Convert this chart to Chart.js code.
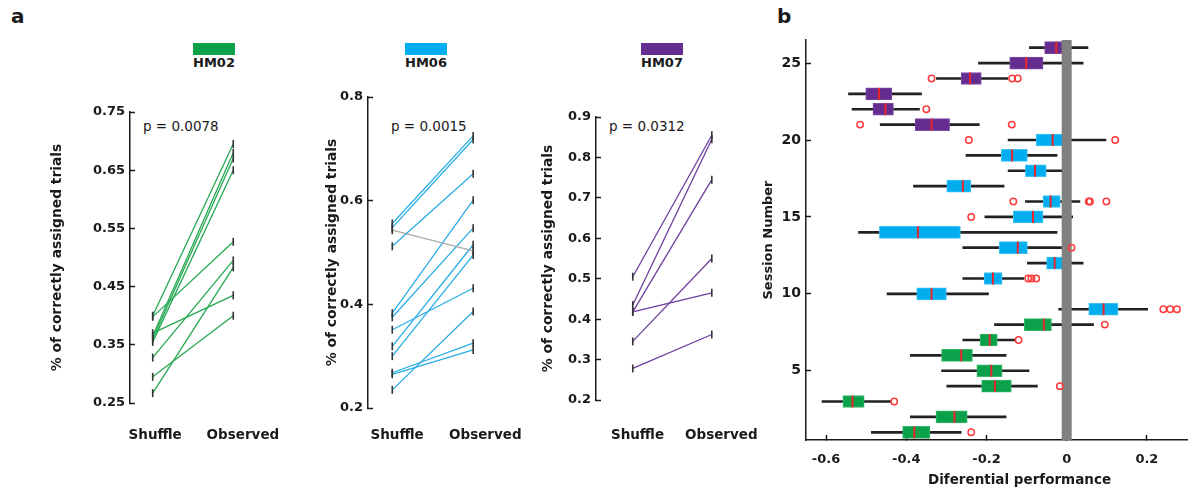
<!DOCTYPE html>
<html>
<head>
<meta charset="utf-8">
<script src="https://cdn.jsdelivr.net/npm/chart.js@4.4.1/dist/chart.umd.min.js"></script>
<style>
  body { margin: 0; background: #fff; width: 1195px; height: 490px; position: relative; overflow: hidden; font-family: "DejaVu Sans", sans-serif; color: #1a1a1a; }
  canvas { position: absolute; top: 0; }
  .txt { position: absolute; white-space: nowrap; }
  .bold { font-weight: bold; }
  .tag { position: absolute; top: 43px; width: 42px; height: 12px; }
  .name { position: absolute; top: 55px; width: 60px; text-align: center; font-weight: bold; font-size: 13px; line-height: 15px; }
  .pval { position: absolute; top: 118px; font-size: 13.5px; line-height: 16px; }
</style>
</head>
<body>

<div class="txt bold" style="left:11px; top:4px; font-size:20px;">a</div>
<div class="txt bold" style="left:777px; top:4px; font-size:20px;">b</div>

<div class="tag" style="left:193px; background:#0ba14b;"></div>
<div class="name" style="left:184px;">HM02</div>
<div class="tag" style="left:405px; background:#00aeef;"></div>
<div class="name" style="left:396px;">HM06</div>
<div class="tag" style="left:641px; background:#662d91;"></div>
<div class="name" style="left:632px;">HM07</div>

<div class="pval" style="left:143px;">p = 0.0078</div>
<div class="pval" style="left:391px;">p = 0.0015</div>
<div class="pval" style="left:609px;">p = 0.0312</div>

<canvas id="c02" width="255" height="460" style="left:40px;"></canvas>
<canvas id="c06" width="215" height="460" style="left:320px;"></canvas>
<canvas id="c07" width="230" height="460" style="left:540px;"></canvas>
<canvas id="cb" width="440" height="490" style="left:755px;"></canvas>

<div class="txt bold" style="left:928px; top:471px; font-size:13.5px;">Diferential performance</div>

<script>
const ink = '#1a1a1a';
const xLabels = ['Shuffle', 'Observed'];

// panel a: one line per session, shuffle -> observed
const shuffle02 = [0.400, 0.365, 0.360, 0.355, 0.398, 0.328, 0.370, 0.295, 0.267];
const observed02 = [0.695, 0.680, 0.670, 0.650, 0.527, 0.495, 0.435, 0.400, 0.483];
const ticks02 = [0.25, 0.35, 0.45, 0.55, 0.65, 0.75];

const shuffle06 = [0.556, 0.548, 0.512, 0.543, 0.383, 0.375, 0.351, 0.319, 0.300, 0.268, 0.265, 0.235];
const observed06 = [0.725, 0.718, 0.652, 0.503, 0.601, 0.547, 0.431, 0.515, 0.495, 0.325, 0.312, 0.386];
const ticks06 = [0.2, 0.4, 0.6, 0.8];

const shuffle07 = [0.505, 0.435, 0.418, 0.418, 0.345, 0.278];
const observed07 = [0.855, 0.845, 0.745, 0.465, 0.550, 0.362];
const ticks07 = [0.2, 0.3, 0.4, 0.5, 0.6, 0.7, 0.8, 0.9];

// panel b: box plot per session
const sessions = [1, 2, 3, 4, 5, 6, 7, 8, 9, 10, 11, 12, 13, 14, 15, 16, 17, 18, 19, 20, 21, 22, 23, 24, 25, 26];
const animal = [0, 0, 0, 0, 0, 0, 0, 0, 1, 1, 1, 1, 1, 1, 1, 1, 1, 1, 1, 1, 2, 2, 2, 2, 2, 2];
const whiskLo = [-0.487, -0.390, -0.610, -0.299, -0.312, -0.390, -0.259, -0.180, -0.020, -0.448, -0.259, -0.098, -0.259,
                 -0.519, -0.204, -0.103, -0.382, -0.146, -0.251, -0.146, -0.465, -0.535, -0.544, -0.325, -0.220, -0.093];
const q1 = [-0.409, -0.326, -0.558, -0.212, -0.224, -0.312, -0.216, -0.106, 0.055, -0.374, -0.206, -0.050, -0.168,
            -0.467, -0.133, -0.059, -0.299, -0.103, -0.163, -0.076, -0.378, -0.483, -0.501, -0.263, -0.142, -0.055];
const median = [-0.380, -0.280, -0.534, -0.179, -0.188, -0.263, -0.192, -0.057, 0.092, -0.337, -0.184, -0.030, -0.122,
                -0.371, -0.084, -0.040, -0.259, -0.079, -0.136, -0.035, -0.337, -0.452, -0.468, -0.241, -0.101, -0.026];
const q3 = [-0.341, -0.248, -0.505, -0.138, -0.161, -0.235, -0.173, -0.038, 0.128, -0.300, -0.161, -0.008, -0.098,
            -0.265, -0.059, -0.016, -0.239, -0.051, -0.098, -0.005, -0.292, -0.432, -0.436, -0.213, -0.059, -0.011];
const whiskHi = [-0.263, -0.151, -0.438, -0.073, -0.094, -0.151, -0.127, 0.067, 0.202, -0.195, -0.107, 0.041, -0.007,
                 -0.024, 0.015, 0.033, -0.156, -0.008, -0.024, 0.098, -0.218, -0.367, -0.362, -0.147, 0.041, 0.053];
const outliers = [[-0.238], [], [-0.430], [-0.017], [], [], [-0.120], [0.095], [0.241, 0.258, 0.275], [], [-0.096, -0.088, -0.076], [],
                  [0.012], [], [-0.238], [-0.133, 0.055, 0.058, 0.099], [], [], [], [-0.244, 0.121], [-0.515, -0.137], [-0.350],
                  [], [-0.337, -0.136, -0.122], [], []];
const xTicksB = [-0.6, -0.4, -0.2, 0, 0.2];
const yTicksB = [5, 10, 15, 20, 25];

const boxColors = ['#0ba14b', '#00aeef', '#662d91'];
const boxEdges = ['#35b86a', '#3cc3f5', '#7c4aa6'];

const tickFont = { family: 'DejaVu Sans', size: 13, weight: 'bold' };

function pairChart(id, shuffle, observed, color, yTicks, opt) {
  const sets = shuffle.map((s, i) => ({
    data: [{ x: 0, y: s }, { x: 1, y: observed[i] }],
    showLine: true,
    borderColor: observed[i] < s ? '#aaaaaa' : color,
    borderWidth: 1.3,
    pointStyle: 'line',
    rotation: 90,
    pointRadius: 4,
    pointBorderColor: '#333',
    pointBorderWidth: 1.6
  }));

  new Chart(document.getElementById(id), {
    type: 'scatter',
    data: { datasets: sets },
    options: {
      responsive: false,
      animation: false,
      events: [],
      layout: { padding: { top: opt.top, right: 40, left: 0, bottom: 0 } },
      plugins: { legend: { display: false }, tooltip: { enabled: false } },
      scales: {
        x: {
          min: opt.xMin, max: opt.xMax,
          grid: { display: false, drawTicks: false },
          border: { display: false },
          afterBuildTicks: s => { s.ticks = opt.labelAt.map(v => ({ value: v })); },
          afterFit: s => { s.height = opt.xHeight; s.paddingLeft = 0; s.paddingRight = 0; },
          ticks: { padding: opt.labelPad, color: ink, font: { family: 'DejaVu Sans', size: 13.5, weight: 'bold' },
                   maxRotation: 0, autoSkip: false, callback: (v, i) => xLabels[i] }
        },
        y: {
          min: yTicks[0], max: yTicks[yTicks.length - 1],
          afterBuildTicks: s => { s.ticks = yTicks.map(v => ({ value: v })); },
          afterFit: s => { s.width = opt.yWidth; },
          border: { color: ink, width: 1.5 },
          grid: { drawOnChartArea: false, tickLength: -5, color: ink, tickWidth: 1.5 },
          ticks: { padding: 10, color: ink, font: tickFont, callback: v => v.toFixed(opt.dec) },
          title: { display: true, text: '% of correctly assigned trials', color: ink,
                   font: { family: 'DejaVu Sans', size: 13.8, weight: 'bold' },
                   padding: { top: opt.titlePad, bottom: 0 } }
        }
      }
    }
  });
}

pairChart('c02', shuffle02, observed02, '#25a852', ticks02,
  { top: 112, xMin: -0.282, xMax: 1.27, xHeight: 57, yWidth: 90, dec: 2, titlePad: 9, labelPad: 24, labelAt: [0.03, 1.12] });
pairChart('c06', shuffle06, observed06, '#2aace4', ticks06,
  { top: 97, xMin: -0.30, xMax: 1.27, xHeight: 52, yWidth: 48, dec: 1, titlePad: 4, labelPad: 19, labelAt: [0.06, 1.15] });
pairChart('c07', shuffle07, observed07, '#6c3f9e', ticks07,
  { top: 117, xMin: -0.465, xMax: 1.23, xHeight: 60, yWidth: 56, dec: 1, titlePad: 0, labelPad: 27, labelAt: [0.06, 1.12] });

// panel b
const outlierPts = [];
sessions.forEach((s, i) => outliers[i].forEach(v => outlierPts.push({ x: v, y: s })));

new Chart(document.getElementById('cb'), {
  type: 'bar',
  data: {
    datasets: [
      {
        data: sessions.map((s, i) => ({ x: [whiskLo[i], whiskHi[i]], y: s })),
        backgroundColor: '#222', barThickness: 2, grouped: false, order: 5
      },
      {
        data: sessions.map((s, i) => ({ x: [q1[i], q3[i]], y: s })),
        backgroundColor: animal.map(a => boxColors[a]),
        borderColor: animal.map(a => boxEdges[a]),
        borderWidth: 1, borderSkipped: false,
        barThickness: 12, grouped: false, order: 4
      },
      {
        type: 'scatter',
        data: sessions.map((s, i) => ({ x: median[i], y: s })),
        pointStyle: 'line', rotation: 90, pointRadius: 6,
        pointBorderColor: '#e8262b', pointBorderWidth: 2, order: 3
      },
      {
        type: 'line',
        data: [{ x: 0, y: 0.5 }, { x: 0, y: 26.5 }],
        borderColor: '#808080', borderWidth: 10, borderCapStyle: 'butt',
        pointRadius: 0, order: 2
      },
      {
        type: 'scatter',
        data: outlierPts,
        pointStyle: 'circle', pointRadius: 3.2,
        pointBackgroundColor: 'rgba(0,0,0,0)', pointBorderColor: '#ff3b3b', pointBorderWidth: 1.5,
        order: 1
      }
    ]
  },
  options: {
    indexAxis: 'y',
    responsive: false,
    animation: false,
    events: [],
    layout: { padding: { top: 40, right: 7, left: 0, bottom: 0 } },
    plugins: { legend: { display: false }, tooltip: { enabled: false } },
    scales: {
      x: {
        type: 'linear', position: 'bottom', min: -0.65, max: 0.3, offset: false,
        afterBuildTicks: s => { s.ticks = xTicksB.map(v => ({ value: v })); },
        afterFit: s => { s.height = 50; },
        border: { color: ink, width: 1.5 },
        grid: { drawOnChartArea: false, offset: false, tickLength: -5, color: ink, tickWidth: 1.5 },
        ticks: { padding: 17, color: ink, font: tickFont, callback: v => v === 0 ? '0' : v.toFixed(1) }
      },
      y: {
        type: 'linear', position: 'left', min: 0.5, max: 26.5, offset: false,
        afterBuildTicks: s => { s.ticks = yTicksB.map(v => ({ value: v })); },
        afterFit: s => { s.width = 51; },
        border: { color: ink, width: 1.5 },
        grid: { drawOnChartArea: false, offset: false, tickLength: -5, color: ink, tickWidth: 1.5 },
        ticks: { padding: 10, color: ink, font: { family: 'DejaVu Sans', size: 14, weight: 'bold' } },
        title: { display: true, text: 'Session Number', color: ink,
                 font: { family: 'DejaVu Sans', size: 13, weight: 'bold' }, padding: { top: 6, bottom: 0 } }
      }
    }
  }
});
</script>
</body>
</html>
